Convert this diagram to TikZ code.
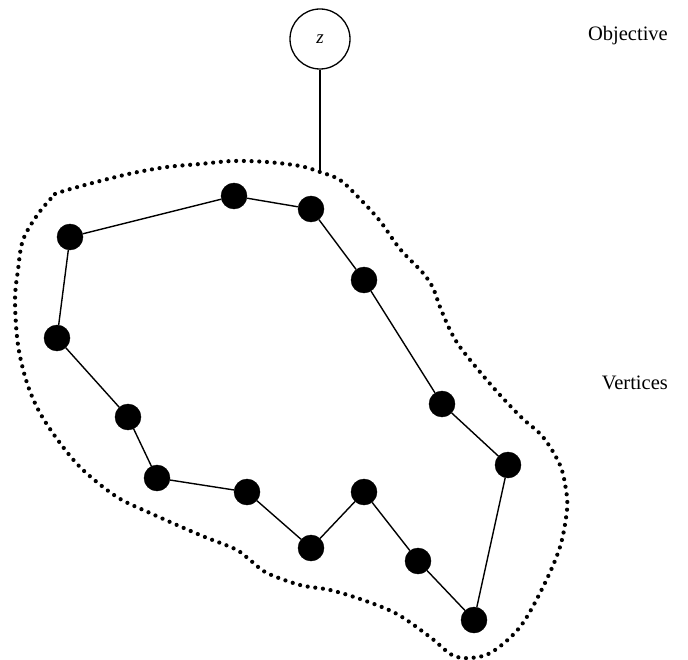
\documentclass[tikz,border=0pt]{standalone}
\usepackage{fontspec}
\setmainfont{Liberation Serif}
\begin{document}
\begin{tikzpicture}[x=1pt,y=-1pt,
  vtx/.style={circle,fill=black,draw=black,minimum size=26pt,inner sep=0pt},
  objnode/.style={circle,draw=black,line width=1.3pt,minimum size=60pt,inner sep=0pt,font=\fontsize{19}{22}\selectfont\itshape},
  edge/.style={line width=1.4pt},
  lbl/.style={font=\fontsize{20.5}{24}\selectfont,anchor=base east,inner sep=0pt},
  blob/.style={line width=4.2pt,line cap=round,dash pattern=on 0pt off 7.7pt}]
\useasboundingbox (0,0) rectangle (688,660);
\fill[white] (0,0) rectangle (688,660);

\draw[blob] plot[smooth,tension=0.55] coordinates {
 (55,194) (67,190) (100,181) (133,173) (167,167) (200,164) (233,161) (267,162) (300,166) (320,172)
 (340,180) (360,199) (380,221) (400,249) (423,273) (433,288) (440,307) (450,330) (460,347)
 (480,372) (500,395) (522,418) (543,437) (560,465) (566,490) (567,510) (560,547) (543,587)
 (520,627) (492,652) (470,658) (452,655) (430,637) (397,614) (363,600) (330,590) (300,585)
 (267,573) (250,560) (235,549) (200,535) (150,513) (117,497) (83,470) (60,443) (40,413)
 (27,383) (18,345) (15,300) (18,270) (23,240) (38,214) (55,194)};

\node[objnode] (z) at (320,39) {z};
\coordinate (zt) at (320,170);
\draw[line width=1.3pt] (z.south) -- (zt);

\node[vtx] (n1) at (234,196) {};
\node[vtx] (n2) at (311,209) {};
\node[vtx] (n3) at (364,280) {};
\node[vtx] (n4) at (442,404) {};
\node[vtx] (n5) at (508,465) {};
\node[vtx] (n6) at (474,620) {};
\node[vtx] (n7) at (418,561) {};
\node[vtx] (n8) at (364,492) {};
\node[vtx] (n9) at (311,548) {};
\node[vtx] (n10) at (247,492) {};
\node[vtx] (n11) at (157,478) {};
\node[vtx] (n12) at (128,417) {};
\node[vtx] (n13) at (57,338) {};
\node[vtx] (n14) at (70,237) {};

\draw[edge] (n1)--(n2) (n2)--(n3) (n3)--(n4) (n4)--(n5) (n5)--(n6) (n6)--(n7)
 (n7)--(n8) (n8)--(n9) (n9)--(n10) (n10)--(n11) (n11)--(n12) (n12)--(n13)
 (n13)--(n14) (n14)--(n1);

\node[lbl] (obj) at (668,41) {Objective};
\node[lbl] (ver) at (668,389) {Vertices};
\end{tikzpicture}
\end{document}
